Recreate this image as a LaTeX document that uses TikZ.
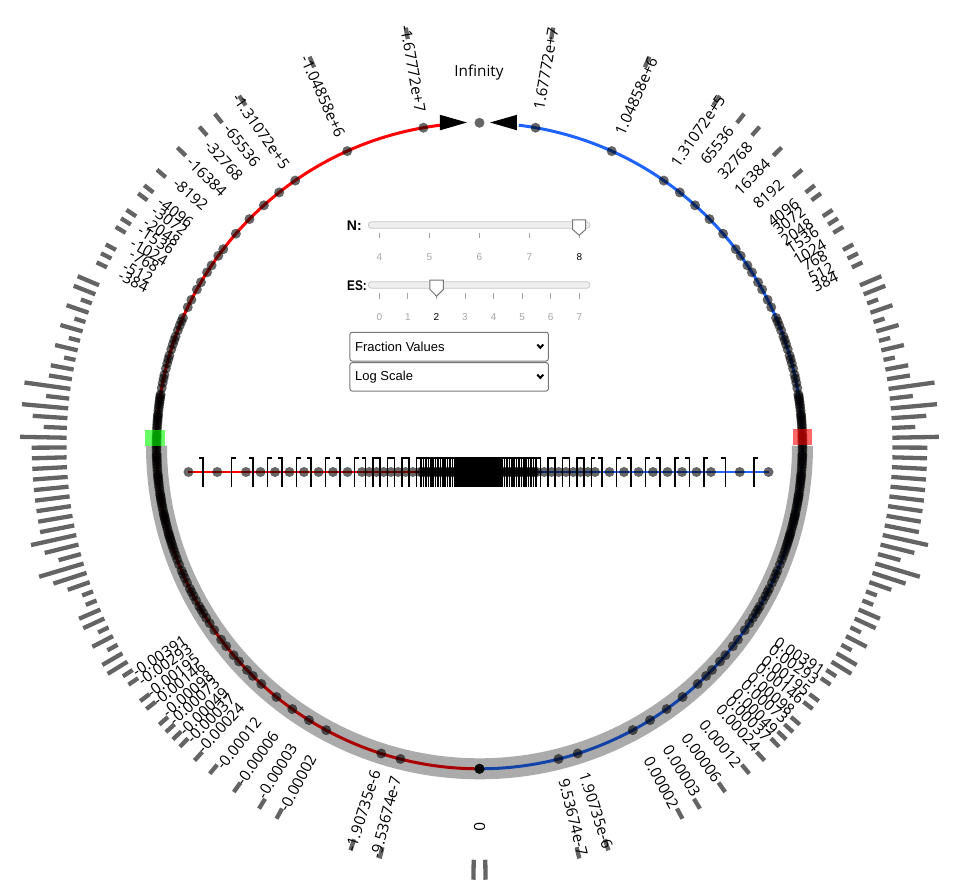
\documentclass[tikz,border=0pt]{standalone}
\usepackage{fontspec}
\setmainfont{Open Sans}
\newfontfamily\uifont{Liberation Sans}
\definecolor{posred}{RGB}{255,0,0}
\definecolor{posblue}{RGB}{30,100,250}
\definecolor{tickgray}{RGB}{100,100,100}
\definecolor{uigray}{RGB}{118,118,118}
\definecolor{lightlab}{RGB}{165,165,165}
\definecolor{trackfill}{RGB}{238,238,238}
\definecolor{trackline}{RGB}{200,200,200}
\pgfmathdeclarefunction{lx}{1}{\pgfmathparse{ifthenelse(#1<=1,290,ifthenelse(#1<=3,290-28.75*(#1-1),ifthenelse(#1<=11,232.5-14.5*(#1-3),ifthenelse(#1<=19,116.5-7.25*(#1-11),ifthenelse(#1<=35,58.5-2.4*(#1-19),20.1*(127-#1)/92)))))}}
\newcommand\posdot[1]{%
  \pgfmathsetmacro\pa{-5+3.5416667*(#1)}%
  \pgfmathsetmacro\pb{180-\pa}%
  \fill[cdot] (\pa:323) circle[radius=5];
  \fill[cdot] (\pb:323) circle[radius=5];}
\tikzset{
  cdot/.style={black,opacity=0.6},
  otick/.style={tickgray,line width=4.3},
  clab/.style={font=\fontsize{15.3}{18}\selectfont,inner sep=0pt},
  brk/.style={black,line width=1.5},
  trk/.style={draw=trackline,fill=trackfill,line width=0.8,rounded corners=3.2},
  thumb/.style={draw=uigray,fill=white,line width=1},
  stick/.style={lightlab,line width=0.8},
  slab/.style={font=\uifont\fontsize{10}{12}\selectfont,text=lightlab,inner sep=0pt},
  slabsel/.style={font=\uifont\fontsize{10}{12}\selectfont,text=black,inner sep=0pt},
  sname/.style={font=\uifont\bfseries\fontsize{14}{16}\selectfont,anchor=west,inner sep=0pt},
  ddbox/.style={draw=uigray,line width=1,rounded corners=2},
  ddtext/.style={font=\uifont\fontsize{13}{15}\selectfont,anchor=west,inner sep=0pt}
}
\begin{document}
\begin{tikzpicture}[x=1pt,y=1pt]
\useasboundingbox (-479.5,-441.2) rectangle (474.5,445.8);
% main circle arcs
\draw[posred,line width=3] (270:323) arc[start angle=270,end angle=97,radius=323];
\draw[posblue,line width=3] (-90:323) arc[start angle=-90,end angle=83,radius=323];
% posit dots on the circle
\foreach \k in {0,-1}{\foreach \e in {0,...,3}{\foreach \f in {0,...,7}{\posdot{4*\k+\e+ln(1+\f/8)/ln(2)}}}}
\foreach \k in {1,-2}{\foreach \e in {0,...,3}{\foreach \f in {0,...,3}{\posdot{4*\k+\e+ln(1+\f/4)/ln(2)}}}}
\foreach \k in {2,-3}{\foreach \e in {0,...,3}{\foreach \f in {0,1}{\posdot{4*\k+\e+ln(1+\f/2)/ln(2)}}}}
\foreach \k in {3,-4}{\foreach \e in {0,...,3}{\posdot{4*\k+\e}}}
\foreach \v in {16,17,20,24,-19,-20,-24}{\posdot{\v}}
\fill[cdot] (-90:323) circle[radius=5];
\fill[cdot] (90:323) circle[radius=5];
% gray band on lower half
\draw[black,opacity=0.33,line width=21] (0:323) arc[start angle=0,end angle=-180,radius=323];
% markers
\fill[red,opacity=0.6] (313.5,0.8) rectangle (332.5,17.0);
\fill[green,opacity=0.6] (-334.5,0.3) rectangle (-314.5,15.8);
% arrows to infinity
\fill[black] (-39.5,331) -- (-39.5,315.5) -- (-12.5,323.3) -- cycle;
\fill[black] (37.5,331) -- (37.5,315.5) -- (10.5,323.3) -- cycle;
\node[font=\fontsize{15.3}{18}\selectfont] (inf) at (-0.5,373.8) {Infinity};
% outer histogram ticks
\foreach \n/\c in {62/1,52/1,44/1,41/1,39/1,36/1,33/1,31/1,30/1,28/1,27/1,26/1,24/1,23/1,22/1,20/2,19/2,18/1,17/2,16/1,15/2,14/1,13/2,12/1,11/2,10/2,9/4,8/2,7/4,6/3,5/2,4/4,3/3,2/3,1/3,0/3,-1/3,-2/3,-3/3,-4/3,-5/3,-6/4,-7/3,-8/2,-9/4,-10/3,-11/2,-12/1,-13/1,-14/2,-15/2,-16/1,-17/2,-18/1,-19/2,-20/2,-21/1,-22/1,-24/1,-25/1,-27/1,-28/1,-29/1,-30/1,-32/1,-34/1,-37/1,-40/1,-42/1,-50/1,-53/1}{
  \pgfmathsetmacro\ta{-4.32+1.36*\n}
  \pgfmathsetmacro\tb{180-\ta}
  \pgfmathsetmacro\tr{413+11.6*\c}
  \draw[otick] (\ta:413) -- (\ta:\tr);
  \draw[otick] (\tb:413) -- (\tb:\tr);
}
\draw[otick] (-89.2:414) -- (-89.2:434);
\draw[otick] (-90.8:414) -- (-90.8:434);
% value labels
\foreach \lv/\txt [count=\i] in {24/1.67772e+7,20/1.04858e+6,17/1.31072e+5,16/65536,15/32768,14/16384,13/8192,12/4096,11.58496/3072,11/2048,10.58496/1536,10/1024,9.58496/768,9/512,8.58496/384,-20/9.53674e-7,-19/1.90735e-6,-16/0.00002,-15/0.00003,-14/0.00006,-13/0.00012,-12/0.00024,-11.41504/0.00037,-11/0.00049,-10.41504/0.00073,-10/0.00098,-9.41504/0.00146,-9/0.00195,-8.41504/0.00293,-8/0.00391}{
  \pgfmathsetmacro\pa{-5+3.5416667*\lv}
  \pgfmathsetmacro\pb{180-\pa}
  \pgfmathsetmacro\pc{-\pa}
  \node[clab,rotate=\pa] (lr\i) at (\pa:383) {\txt};
  \node[clab,rotate=\pc] (ll\i) at (\pb:383) {-\txt};
}
\node[clab,rotate=-90] (lzero) at (-90:381) {0};
% inner number line
\draw[posred,line width=2.5] (-291,-26.2) -- (-1,-26.2);
\draw[posblue,line width=2.5] (-1,-26.2) -- (289,-26.2);
\foreach \i in {1,...,127}{
  \pgfmathsetmacro\xx{lx(\i)}
  \fill[cdot] (\xx-1,-26.2) circle[radius=5];
  \fill[cdot] (-\xx-1,-26.2) circle[radius=5];
}
\fill[cdot] (-1,-26.2) circle[radius=5];
\foreach \i in {1,...,126}{
  \pgfmathsetmacro\xm{(lx(\i)+lx(\i+1))/2}
  \pgfmathsetmacro\sg{ifthenelse(mod(\i,2)==1,1,-1)}
  \draw[brk] (\xm-1+4*\sg,-12.2) -- (\xm-1,-12.2) -- (\xm-1,-41.2);
  \draw[brk] (-\xm-1-4*\sg,-12.2) -- (-\xm-1,-12.2) -- (-\xm-1,-41.2);
}
% N slider
\node[sname] (nlab) at (-132.8,220.6) {N:};
\draw[trk] (-111.2,217.5) rectangle (110.5,224.1);
\foreach \j [count=\q from 0] in {4,5,6,7}{
  \draw[stick] (-100.2+50*\q,213.1) -- (-100.2+50*\q,207.5);
  \node[slab] (nt\j) at (-100.2+50*\q,189.1) {\j};
}
\draw[stick] (99.8,213.1) -- (99.8,207.5);
\node[slabsel] (nt8) at (99.8,189.1) {8};
\filldraw[thumb] (93.2,225.8) -- (106.2,225.8) -- (106.2,216.3) -- (99.7,210.6) -- (93.2,216.3) -- cycle;
% ES slider
\node[sname,xscale=0.84] (eslab) at (-132.5,160.2) {ES:};
\draw[trk] (-111.2,157.5) rectangle (110.5,164.1);
\foreach \j in {0,...,7}{
  \draw[stick] (-100.2+28.57*\j,153.1) -- (-100.2+28.57*\j,146.8);
}
\foreach \j in {0,1,3,4,5,6,7}{
  \node[slab] (et\j) at (-100.2+28.57*\j,129.1) {\j};
}
\node[slabsel] (et2) at (-43.06,129.1) {2};
\filldraw[thumb] (-49.5,165.8) -- (-36.2,165.8) -- (-36.2,156.3) -- (-42.85,149.6) -- (-49.5,156.3) -- cycle;
% dropdowns
\draw[ddbox] (-129.5,84.8) rectangle (68.8,113.5);
\node[ddtext] (dd1) at (-124.5,99.1) {Fraction Values};
\draw[black,line width=2] (57.8,101.3) -- (60.8,98.0) -- (63.8,101.3);
\draw[ddbox] (-129.5,54.8) rectangle (68.8,83.1);
\node[ddtext] (dd2) at (-124.5,69.0) {Log Scale};
\draw[black,line width=2] (57.8,71.2) -- (60.8,67.9) -- (63.8,71.2);
\end{tikzpicture}
\end{document}
